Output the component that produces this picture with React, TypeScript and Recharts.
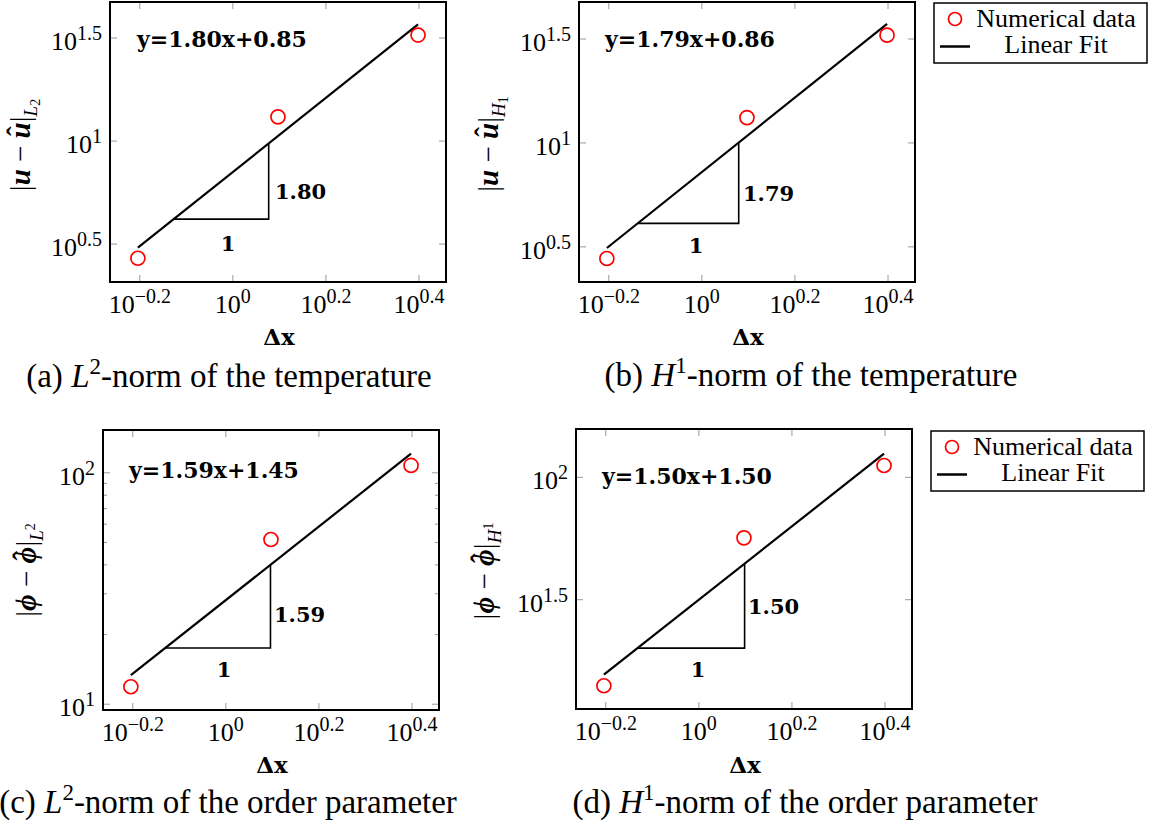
import React from 'react';
import { ComposedChart, Scatter, XAxis, YAxis } from 'recharts';

// mesh sizes
const dx = [0.625, 1.25, 2.5];

// errors for each norm
const errTempL2 = [2.7, 13.1, 32.7];
const errTempH1 = [2.78, 13.24, 33.0];
const errPhiL2 = [11.9, 51.5, 107.6];
const errPhiH1 = [14.06, 56.6, 111.9];

// fits in log-log space: [slope, intercept]
const fitTempL2 = [1.8, 0.85];
const fitTempH1 = [1.79, 0.86];
const fitPhiL2 = [1.59, 1.45];
const fitPhiH1 = [1.5, 1.5];

// horizontal extent of the slope triangles
const triTempL2 = [0.746, 1.194];
const triTempH1 = [0.728, 1.2];
const triPhiL2 = [0.741, 1.247];
const triPhiH1 = [0.738, 1.254];

// tick exponents (base 10)
const xTickExp = [-0.2, 0, 0.2, 0.4];
const yTickExpTemp = [0.5, 1, 1.5];
const yTickExpPhiL2 = [1, 2];
const yMinorPhiL2 = [20, 30, 40, 50, 60, 70, 80, 90];
const yTickExpPhiH1 = [1.5, 2];

const SERIF = "'Liberation Serif', 'Times New Roman', serif";
const BOLD = "'DejaVu Serif', serif";
const PW = 336;
const PH = 280;
const YW = 100;
const XH = 50;
const MT = 6;
const MR = 6;
const TICK = '#9a9a9a';

const fitAt = (fit: number[], x: number) => 10 ** (fit[0] * Math.log10(x) + fit[1]);
const pointsOf = (err: number[]) => dx.map((x, i) => ({ x, y: err[i] }));
const fitLine = (fit: number[]) => [dx[0], dx[dx.length - 1]].map((x) => ({ x, y: fitAt(fit, x) }));
const triangle = (fit: number[], tri: number[]) => [
  { x: tri[0], y: fitAt(fit, tri[0]) },
  { x: tri[1], y: fitAt(fit, tri[0]) },
  { x: tri[1], y: fitAt(fit, tri[1]) },
];

const fmtExp = (v: number) => {
  const p = Math.round(Math.log10(v) * 10) / 10;
  const s = Number.isInteger(p) ? String(p) : p.toFixed(1);
  return s.replace('-', '\u2212');
};

function XTick(props: any) {
  const { x, y, payload } = props;
  return (
    <g>
      <line x1={x} x2={x} y1={y} y2={y - 7} stroke={TICK} />
      <line x1={x} x2={x} y1={y - PH} y2={y - PH + 7} stroke={TICK} />
      <text x={x} y={y + 31} textAnchor="middle" fontFamily={SERIF} fontSize={26} fill="#000">
        10<tspan dy={-10} fontSize={20}>{fmtExp(payload.value)}</tspan>
      </text>
    </g>
  );
}

function YTick(props: any) {
  const { x, y, payload, major } = props;
  const lg = Math.log10(payload.value);
  const isMajor = major.some((m: number) => Math.abs(m - lg) < 1e-6);
  const len = isMajor ? 7 : 4;
  return (
    <g>
      <line x1={x} x2={x + len} y1={y} y2={y} stroke={TICK} />
      <line x1={x + PW} x2={x + PW - len} y1={y} y2={y} stroke={TICK} />
      {isMajor && (
        <text x={x - 8} y={y + 12} textAnchor="end" fontFamily={SERIF} fontSize={26} fill="#000">
          10<tspan dy={-10} fontSize={20}>{fmtExp(payload.value)}</tspan>
        </text>
      )}
    </g>
  );
}

const Circle = (p: any) => (
  <circle cx={p.cx} cy={p.cy} r={7} fill="none" stroke="#ff0000" strokeWidth={1.7} />
);
const NoDot = () => <g />;

interface PanelProps {
  left: number;
  top: number;
  err: number[];
  fit: number[];
  tri: number[];
  yDomainExp: number[];
  yMajor: number[];
  yMinor?: number[];
}

function Panel({ left, top, err, fit, tri, yDomainExp, yMajor, yMinor = [] }: PanelProps) {
  const yTicks = [...yMajor.map((p) => 10 ** p), ...yMinor].sort((a, b) => a - b);
  return (
    <div style={{ position: 'absolute', left: left - YW, top: top - MT }}>
      <ComposedChart
        width={YW + PW + MR}
        height={MT + PH + XH}
        margin={{ top: MT, right: MR, bottom: 0, left: 0 }}
      >
        <XAxis
          type="number"
          dataKey="x"
          scale="log"
          domain={[10 ** -0.264, 10 ** 0.458]}
          ticks={xTickExp.map((p) => 10 ** p)}
          interval={0}
          tickLine={false}
          axisLine={false}
          tickSize={0}
          tickMargin={0}
          height={XH}
          tick={(p: any) => <XTick {...p} />}
        />
        <YAxis
          type="number"
          dataKey="y"
          scale="log"
          domain={yDomainExp.map((p) => 10 ** p)}
          ticks={yTicks}
          interval={0}
          tickLine={false}
          axisLine={false}
          tickSize={0}
          tickMargin={0}
          width={YW}
          tick={(p: any) => <YTick {...p} major={yMajor} />}
        />
        <Scatter data={triangle(fit, tri)} line={{ stroke: '#000', strokeWidth: 1.6 }} shape={NoDot} isAnimationActive={false} />
        <Scatter data={fitLine(fit)} line={{ stroke: '#000', strokeWidth: 2.2 }} shape={NoDot} isAnimationActive={false} />
        <Scatter data={pointsOf(err)} shape={Circle} isAnimationActive={false} />
      </ComposedChart>
    </div>
  );
}

function Frame({ left, top }: { left: number; top: number }) {
  return <rect x={left} y={top} width={PW} height={PH} fill="none" stroke="#000" strokeWidth={2} />;
}

function LegendBox({ x, y }: { x: number; y: number }) {
  return (
    <g fontFamily={SERIF} fontSize={26}>
      <rect x={x} y={y} width={213} height={60} fill="#fff" stroke="#000" strokeWidth={1.5} />
      <circle cx={x + 21} cy={y + 16} r={6.5} fill="none" stroke="#ff0000" strokeWidth={1.7} />
      <text x={x + 122} y={y + 23.5} textAnchor="middle">Numerical data</text>
      <line x1={x + 6} x2={x + 36} y1={y + 43.5} y2={y + 43.5} stroke="#000" strokeWidth={2.5} />
      <text x={x + 122} y={y + 50} textAnchor="middle">Linear Fit</text>
    </g>
  );
}

function Caption({ x, y, tag, norm, sup, rest }: any) {
  return (
    <text x={x} y={y} textAnchor="middle" fontFamily={SERIF} fontSize={33}>
      {tag} <tspan fontStyle="italic">{norm}</tspan>
      <tspan dy={-13} fontSize={23}>{sup}</tspan>
      <tspan dy={13}>{rest}</tspan>
    </text>
  );
}

// rotated |a - â|_{sub} label; the hat is placed by hand over the second symbol
function YTitle({ x, y, sym, sub, subMark, subUp }: any) {
  const fs = 29;
  const adv = 0.62 * fs;
  const hatW = 0.333 * fs;
  return (
    <text transform={`translate(${x},${y}) rotate(-90)`} textAnchor="middle" fontFamily={SERIF} fontSize={fs}>
      |<tspan fontWeight="bold" fontStyle="italic">{sym}</tspan> {'\u2212'}{' '}
      <tspan fontWeight="bold" fontStyle="italic">{sym}</tspan>
      <tspan dx={-(adv + hatW) / 2} dy={-3} fontWeight="bold">{'\u02c6'}</tspan>
      <tspan dx={(adv - hatW) / 2} dy={3}>|</tspan>
      <tspan dy={7} fontSize={19} fontStyle="italic">{sub}</tspan>
      <tspan dy={subUp ? -8 : 3} fontSize={14}>{subMark}</tspan>
    </text>
  );
}

function BoldText({ x, y, anchor = 'start', size = 21, children }: any) {
  return (
    <text x={x} y={y} textAnchor={anchor} fontFamily={BOLD} fontWeight="bold" fontSize={size}>
      {children}
    </text>
  );
}

export default function App() {
  return (
    <div style={{ position: 'absolute', left: 0, top: 0, width: 1155, height: 825, background: '#fff', overflow: 'hidden' }}>
      <Panel left={110} top={2} err={errTempL2} fit={fitTempL2} tri={triTempL2} yDomainExp={[0.316, 1.675]} yMajor={yTickExpTemp} />
      <Panel left={579} top={2} err={errTempH1} fit={fitTempH1} tri={triTempH1} yDomainExp={[0.331, 1.678]} yMajor={yTickExpTemp} />
      <Panel left={103} top={430} err={errPhiL2} fit={fitPhiL2} tri={triPhiL2} yDomainExp={[0.975, 2.185]} yMajor={yTickExpPhiL2} yMinor={yMinorPhiL2} />
      <Panel left={576} top={429} err={errPhiH1} fit={fitPhiH1} tri={triPhiH1} yDomainExp={[1.053, 2.198]} yMajor={yTickExpPhiH1} />

      <svg width={1155} height={825} style={{ position: 'absolute', left: 0, top: 0, pointerEvents: 'none' }}>
        <Frame left={110} top={2} />
        <Frame left={579} top={2} />
        <Frame left={103} top={430} />
        <Frame left={576} top={429} />

        <BoldText x={137} y={47} size={22}>y=1.80x+0.85</BoldText>
        <BoldText x={275} y={199}>1.80</BoldText>
        <BoldText x={228} y={251} anchor="middle">1</BoldText>

        <BoldText x={605} y={47} size={22}>y=1.79x+0.86</BoldText>
        <BoldText x={743} y={201}>1.79</BoldText>
        <BoldText x={696} y={253} anchor="middle">1</BoldText>

        <BoldText x={129} y={478} size={22}>y=1.59x+1.45</BoldText>
        <BoldText x={274} y={622}>1.59</BoldText>
        <BoldText x={224} y={677} anchor="middle">1</BoldText>

        <BoldText x={602} y={484} size={22}>y=1.50x+1.50</BoldText>
        <BoldText x={748} y={614}>1.50</BoldText>
        <BoldText x={698} y={677} anchor="middle">1</BoldText>

        <BoldText x={279} y={345} anchor="middle" size={23}>{'\u0394x'}</BoldText>
        <BoldText x={748} y={345} anchor="middle" size={23}>{'\u0394x'}</BoldText>
        <BoldText x={272} y={773} anchor="middle" size={23}>{'\u0394x'}</BoldText>
        <BoldText x={745} y={773} anchor="middle" size={23}>{'\u0394x'}</BoldText>

        <YTitle x={30} y={145} sym="u" sub="L" subMark="2" />
        <YTitle x={498} y={144} sym="u" sub="H" subMark="1" />
        <YTitle x={36} y={570} sym={'\u03d5'} sub="L" subMark="2" subUp />
        <YTitle x={494} y={571} sym={'\u03d5'} sub="H" subMark="1" subUp />

        <LegendBox x={934} y={3} />
        <LegendBox x={931} y={431} />

        <Caption x={229} y={387} tag="(a)" norm="L" sup="2" rest="-norm of the temperature" />
        <Caption x={811} y={386} tag="(b)" norm="H" sup="1" rest="-norm of the temperature" />
        <Caption x={228} y={813} tag="(c)" norm="L" sup="2" rest="-norm of the order parameter" />
        <Caption x={805} y={813} tag="(d)" norm="H" sup="1" rest="-norm of the order parameter" />
      </svg>
    </div>
  );
}
